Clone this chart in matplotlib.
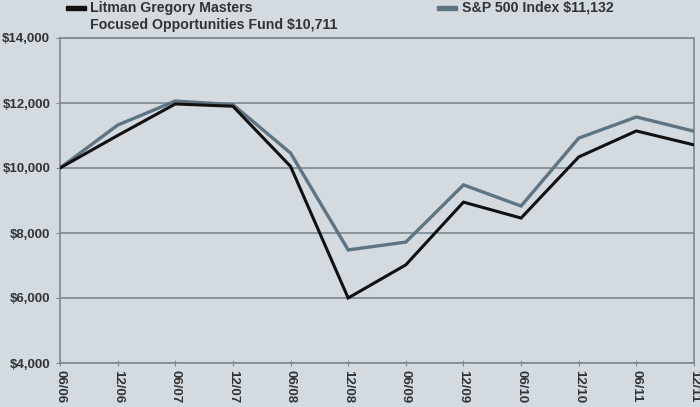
import matplotlib
matplotlib.use('Agg')
import matplotlib.pyplot as plt

plt.rcParams['font.family'] = ['Liberation Sans', 'DejaVu Sans']

# semiannual observations, months since 06/06
months = [0, 6, 12, 18, 24, 30, 36, 42, 48, 54, 60, 66]
tick_labels = ['06/06', '12/06', '06/07', '12/07', '06/08', '12/08',
               '06/09', '12/09', '06/10', '12/10', '06/11', '12/11']
fund = [10000, 11000, 11970, 11900, 10050, 6000, 7020, 8950, 8460, 10340, 11140, 10711]
sp500 = [10000, 11320, 12060, 11950, 10460, 7480, 7720, 9480, 8830, 10920, 11570, 11132]

bg = '#d3dae0'
grid_c = '#7d8891'

fig = plt.figure(figsize=(7, 4.07), dpi=100, facecolor=bg)
ax = fig.add_axes([60 / 700, 1 - 363 / 407, 634 / 700, 325 / 407], facecolor=bg)

ax.plot(months, sp500, color='#5e7482', lw=2.4, solid_joinstyle='miter', zorder=3)
ax.plot(months, fund, color='#111111', lw=2.2, solid_joinstyle='miter', zorder=4)

ax.set_xlim(0, 66)
ax.set_ylim(4000, 14000)
ax.set_yticks([4000, 6000, 8000, 10000, 12000, 14000])
ax.set_yticklabels(['$4,000', '$6,000', '$8,000', '$10,000', '$12,000', '$14,000'],
                   fontsize=9.5, fontweight='bold', color='#333333')
ax.set_xticks(months)
ax.set_xticklabels(tick_labels, rotation=-90, fontsize=9.5, fontweight='bold', color='#333333')

ax.grid(axis='y', color=grid_c, lw=1.2)
ax.set_axisbelow(True)
for side in ['left', 'right', 'bottom', 'top']:
    ax.spines[side].set_color(grid_c)
    ax.spines[side].set_linewidth(1.2)
ax.tick_params(axis='y', length=3, color=grid_c, pad=4)
ax.tick_params(axis='x', length=4, color=grid_c, direction='inout', pad=3)

# legend
fig.patches.append(plt.Rectangle((66 / 700, 1 - 10 / 407), 20 / 700, 4 / 407,
                                 transform=fig.transFigure, color='#111111'))
fig.text(90 / 700, 1 - 8 / 407, 'Litman Gregory Masters', fontsize=10.2, fontweight='bold',
         color='#333333', va='center')
fig.text(90 / 700, 1 - 25 / 407, 'Focused Opportunities Fund $10,711', fontsize=10.2,
         fontweight='bold', color='#333333', va='center')
fig.patches.append(plt.Rectangle((437 / 700, 1 - 10 / 407), 20 / 700, 4 / 407,
                                 transform=fig.transFigure, color='#5e7482'))
fig.text(462 / 700, 1 - 8 / 407, 'S&P 500 Index $11,132', fontsize=10.2, fontweight='bold',
         color='#333333', va='center')

fig.savefig('out.png', dpi=100, facecolor=bg)
